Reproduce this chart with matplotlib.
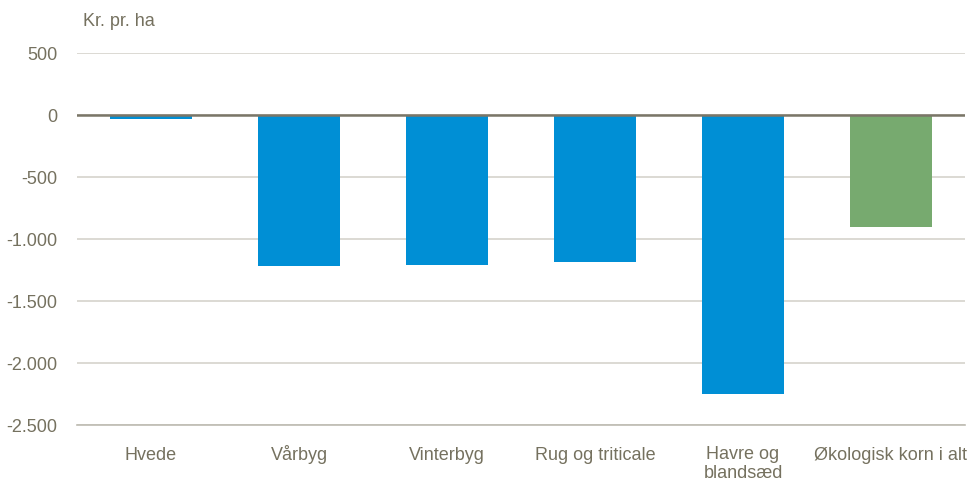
import matplotlib
matplotlib.use("Agg")
import matplotlib.pyplot as plt
from matplotlib.transforms import ScaledTranslation

categories = ["Hvede", "Vårbyg", "Vinterbyg", "Rug og triticale", "Havre og\nblandsæd", "Økologisk korn i alt"]
values = [-32, -1218, -1210, -1185, -2250, -903]
colors = ["#008FD5", "#008FD5", "#008FD5", "#008FD5", "#008FD5", "#77AA6F"]
yticks = [500, 0, -500, -1000, -1500, -2000, -2500]
yticklabels = ["500", "0", "-500", "-1.000", "-1.500", "-2.000", "-2.500"]

plt.rcParams['font.family'] = ['Liberation Sans', 'DejaVu Sans']
txt = "#75715F"
fs = 13
ls = 1.2

fig = plt.figure(figsize=(9.67, 4.84), dpi=100)
ax = fig.add_axes([77/967, 59/484, (965-77)/967, (425-53)/484])
x = list(range(len(categories)))
ax.bar(x, values, width=0.55, color=colors, zorder=3)
ax.set_xlim(-0.5, len(categories) - 0.5)
ax.set_ylim(-2500, 500)
ax.set_yticks(yticks)
ax.set_yticklabels(yticklabels)
ax.set_xticks(x)
for s in ["top", "right", "left"]:
    ax.spines[s].set_visible(False)
ax.spines["bottom"].set_color("#BDBBB2")
ax.spines["bottom"].set_linewidth(1.2)
ax.grid(axis="y", color="#D5D3CC", linewidth=1.2, zorder=0)
ax.axhline(0, color="#7A7668", linewidth=1.8, zorder=4)
ax.tick_params(axis="both", length=0, labelsize=fs, colors=txt)
ax.tick_params(axis="x", pad=25)
ax.tick_params(axis="y", pad=14)
ax.set_xticklabels(categories, linespacing=ls, va="baseline")
for lbl in ax.get_xticklabels():
    n = lbl.get_text().count("\n")
    if n:
        lbl.set_transform(lbl.get_transform() +
                          ScaledTranslation(0, -n * (fs * ls / 72 - 0.03), fig.dpi_scale_trans))
fig.text(83/967, 1 - 22/484, "Kr. pr. ha", fontsize=fs, color=txt, ha="left", va="center")
fig.savefig("out.png", dpi=100)
